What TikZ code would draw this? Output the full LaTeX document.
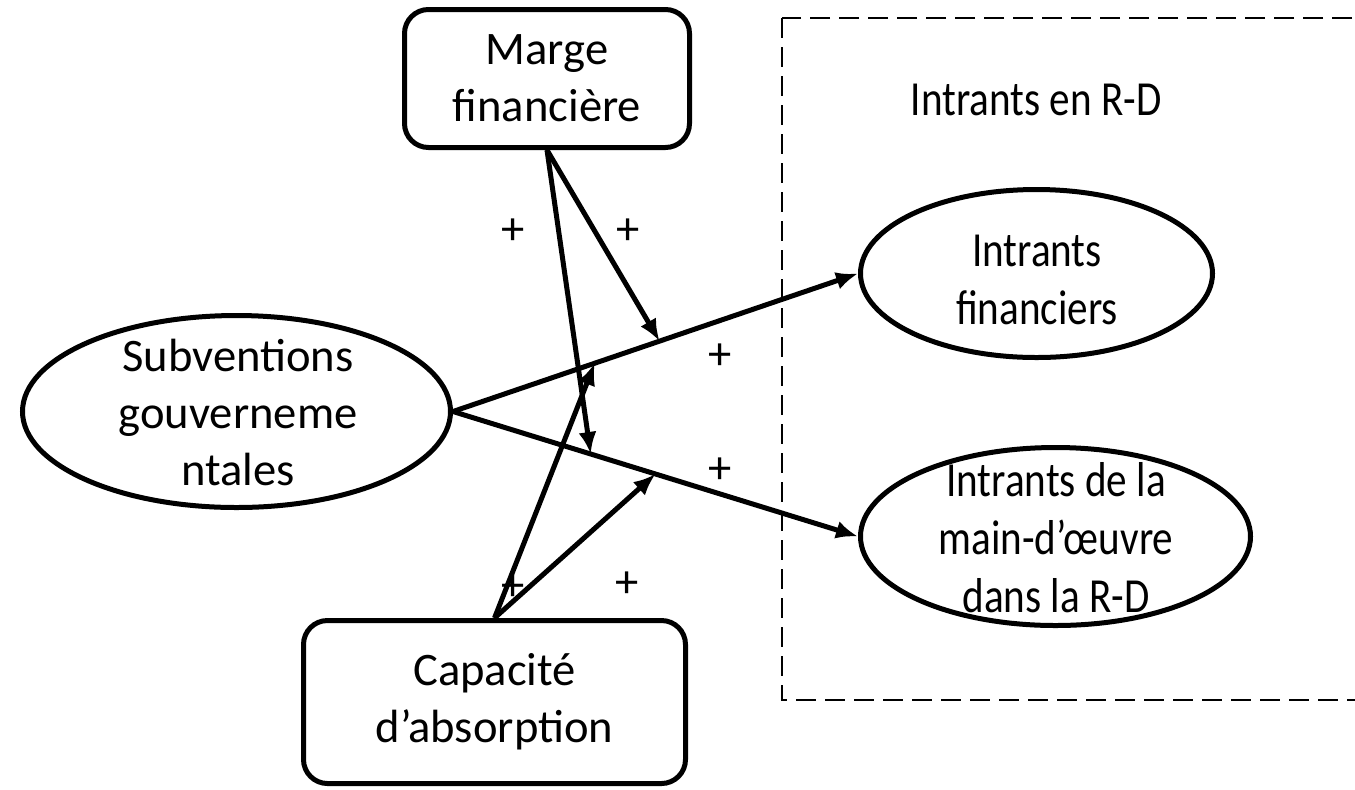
\documentclass[tikz,border=0pt]{standalone}
\usepackage{fontspec}
\setmainfont{Carlito}
\newfontfamily\etroit[FakeStretch=0.84]{Carlito}
\usetikzlibrary{arrows.meta,shapes.geometric,calc}

\tikzset{
	box/.style={draw, line width=2.5pt, rounded corners=12pt, inner sep=0pt, align=center, font=\fontsize{23.3}{28.5}\selectfont},
	oval/.style={draw, ellipse, line width=2.5pt, inner sep=0pt},
	txt/.style={align=center, font=\fontsize{23.3}{28.5}\selectfont},
	txtR/.style={align=center, font=\etroit\fontsize{24.5}{29}\selectfont},
	link/.style={line width=2.5pt, -{Latex[length=11pt,width=9pt]}},
}

\begin{document}
\begin{tikzpicture}[x=0.5pt,y=-0.5pt]
	\useasboundingbox (0,0) rectangle (1355,789);
	\clip (0,0) rectangle (1355,789);
	\draw[line width=1.2pt, dash pattern=on 10pt off 4.5pt] (782,18) rectangle (1400,700);
	\node[txtR] (titre) at (1036,100) {Intrants en R-D};
	\node[box, minimum width=142.5pt, minimum height=69pt] (marge) at (547,78.5) {Marge\\financière};
	\node[box, minimum width=191pt, minimum height=81.5pt] (capa) at (494.5,702) {Capacité\\d’absorption};
	\node[oval, minimum width=214pt, minimum height=96pt] (subv) at (236.5,411.5) {};
	\node[oval, minimum width=176pt, minimum height=84pt] (fin) at (1036.5,273.5) {};
	\node[oval, minimum width=195pt, minimum height=89pt] (mo) at (1055.5,536.5) {};
	\node[txt] (subvtxt) at (238,412) {Subventions\\gouverneme\\ntales};
	\node[txtR] (fintxt) at (1037,280) {Intrants\\financiers};
	\node[txtR] (motxt) at (1056,538) {Intrants de la\\main-d’œuvre\\dans la R-D};
	\draw[link] (subv.east) -- (fin.west);
	\draw[link] (subv.east) -- (mo.west);
	\coordinate (hautM) at ($(subv.east)!0.51!(fin.west)$);
	\coordinate (hautC) at ($(subv.east)!0.35!(fin.west)$);
	\coordinate (basM) at ($(subv.east)!0.34!(mo.west)$);
	\coordinate (basC) at ($(subv.east)!0.5!(mo.west)$);
	\draw[link] (marge.south) -- (hautM);
	\draw[link] (marge.south) -- (basM);
	\draw[link] (capa.north) -- (hautC);
	\draw[link] (capa.north) -- (basC);
	\foreach \px/\py [count=\i] in {513/232, 628/232, 720/357, 720/471, 513/588, 627/585}
		\node[txt] (plus\i) at (\px,\py) {+};
\end{tikzpicture}
\end{document}
